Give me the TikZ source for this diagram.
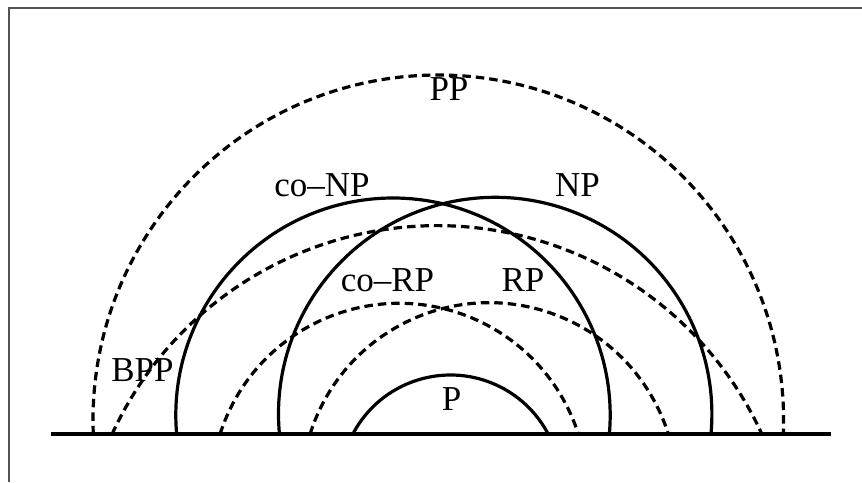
\documentclass[tikz,border=0pt]{standalone}
\usepackage{fontspec}
\setmainfont{Liberation Serif}
\begin{document}
\begin{tikzpicture}[x=1pt,y=1pt,
  solidarc/.style={line width=3.2pt},
  dasharc/.style={line width=3.2pt,dash pattern=on 8.5pt off 5pt},
  baseln/.style={line width=4pt},
  framel/.style={line width=2pt,draw=black!68},
  lbl/.style={font=\fontsize{35}{42}\selectfont,inner sep=0pt,anchor=center}]
\useasboundingbox (0,0) rectangle (862,482);
\fill[white] (0,0) rectangle (862,482);
% frame (top and left edges)
\coordinate (fTL) at (8.5,473.5);
\coordinate (fTR) at (862,473.5);
\coordinate (fBL) at (8.5,0);
\draw[framel] (fTR) -- (fTL) -- (fBL);
% arcs
\draw[dasharc] ([shift={(182.32:345.3)}]438.3,61.7) arc[start angle=182.32,end angle=-2.32,radius=345.3];
\draw[dasharc] ([shift={(155.39:357.5)}]437,-101.2) arc[start angle=155.39,end angle=24.61,radius=357.5];
\draw[solidarc] ([shift={(185.04:217.2)}]393,66.8) arc[start angle=185.04,end angle=-5.04,radius=217.2];
\draw[solidarc] ([shift={(185.37:216.7)}]495.2,68) arc[start angle=185.37,end angle=-5.37,radius=216.7];
\draw[dasharc] ([shift={(162.33:188.1)}]399.2,-9.4) arc[start angle=162.33,end angle=17.67,radius=188.1];
\draw[dasharc] ([shift={(162.59:187.8)}]489.2,-8.5) arc[start angle=162.59,end angle=17.41,radius=187.8];
\draw[solidarc] ([shift={(152.46:110.3)}]450.5,-3.3) arc[start angle=152.46,end angle=27.54,radius=110.3];
% baseline
\coordinate (bl) at (51,47.7);
\coordinate (br) at (831,47.7);
\draw[baseln] (bl) -- (br);
% labels
\node[lbl] (pp) at (449,393) {PP};
\node[lbl] (conp) at (322,297) {co–NP};
\node[lbl] (np) at (577.5,297) {NP};
\node[lbl] (corp) at (387.5,202) {co–RP};
\node[lbl] (rp) at (523,202) {RP};
\node[lbl] (bpp) at (142.5,112) {BPP};
\node[lbl] (p) at (451.5,82.5) {P};
\end{tikzpicture}
\end{document}
